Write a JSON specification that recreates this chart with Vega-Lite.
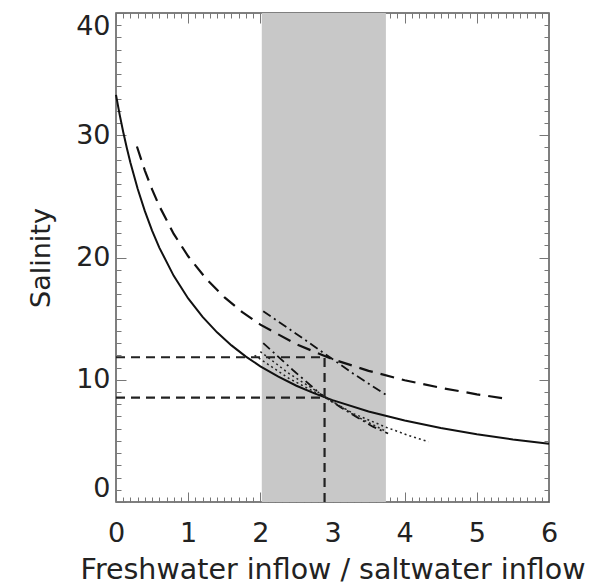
{
  "$schema": "https://vega.github.io/schema/vega-lite/v6.json",
  "width": 433,
  "height": 489,
  "autosize": "none",
  "padding": {"left": 116, "top": 13, "right": 44, "bottom": 83},
  "config": {
    "view": {"stroke": "#555", "strokeWidth": 1.5},
    "font": "DejaVu Sans",
    "axis": {
      "grid": false, "domain": false, "tickColor": "#777", "tickWidth": 1,
      "labelFont": "DejaVu Sans", "titleFont": "DejaVu Sans",
      "labelColor": "#222", "titleColor": "#222",
      "labelFontSize": 27, "titleFontSize": 27, "titleFontWeight": "normal",
      "labelFlush": false, "labelOverlap": false
    }
  },
  "datasets": {
    "curves": [
      {"series": "solid", "r": 0, "s": 33.3},
      {"series": "solid", "r": 0.05, "s": 31.71},
      {"series": "solid", "r": 0.1, "s": 30.27},
      {"series": "solid", "r": 0.15, "s": 28.96},
      {"series": "solid", "r": 0.2, "s": 27.75},
      {"series": "solid", "r": 0.3, "s": 25.62},
      {"series": "solid", "r": 0.4, "s": 23.79},
      {"series": "solid", "r": 0.5, "s": 22.2},
      {"series": "solid", "r": 0.6, "s": 20.81},
      {"series": "solid", "r": 0.8, "s": 18.5},
      {"series": "solid", "r": 1.0, "s": 16.65},
      {"series": "solid", "r": 1.2, "s": 15.14},
      {"series": "solid", "r": 1.4, "s": 13.88},
      {"series": "solid", "r": 1.6, "s": 12.81},
      {"series": "solid", "r": 1.8, "s": 11.89},
      {"series": "solid", "r": 2.0, "s": 11.1},
      {"series": "solid", "r": 2.25, "s": 10.25},
      {"series": "solid", "r": 2.5, "s": 9.51},
      {"series": "solid", "r": 2.75, "s": 8.88},
      {"series": "solid", "r": 3.0, "s": 8.33},
      {"series": "solid", "r": 3.5, "s": 7.4},
      {"series": "solid", "r": 4.0, "s": 6.66},
      {"series": "solid", "r": 4.5, "s": 6.05},
      {"series": "solid", "r": 5.0, "s": 5.55},
      {"series": "solid", "r": 5.5, "s": 5.12},
      {"series": "solid", "r": 6.0, "s": 4.76},
      {"series": "dashed", "r": 0.29, "s": 29.08},
      {"series": "dashed", "r": 0.4, "s": 27.11},
      {"series": "dashed", "r": 0.5, "s": 25.57},
      {"series": "dashed", "r": 0.6, "s": 24.21},
      {"series": "dashed", "r": 0.8, "s": 21.93},
      {"series": "dashed", "r": 1.0, "s": 20.1},
      {"series": "dashed", "r": 1.25, "s": 18.25},
      {"series": "dashed", "r": 1.5, "s": 16.76},
      {"series": "dashed", "r": 1.75, "s": 15.53},
      {"series": "dashed", "r": 2.0, "s": 14.51},
      {"series": "dashed", "r": 2.5, "s": 12.9},
      {"series": "dashed", "r": 3.0, "s": 11.68},
      {"series": "dashed", "r": 3.5, "s": 10.73},
      {"series": "dashed", "r": 4.0, "s": 9.96},
      {"series": "dashed", "r": 4.5, "s": 9.34},
      {"series": "dashed", "r": 5.0, "s": 8.81},
      {"series": "dashed", "r": 5.35, "s": 8.5},
      {"series": "dashdot1", "r": 2.04, "s": 15.6},
      {"series": "dashdot1", "r": 2.5, "s": 13.75},
      {"series": "dashdot1", "r": 2.9, "s": 12.1},
      {"series": "dashdot1", "r": 3.3, "s": 10.45},
      {"series": "dashdot1", "r": 3.77, "s": 8.65},
      {"series": "dashdot2", "r": 2.04, "s": 13.0},
      {"series": "dashdot2", "r": 2.45, "s": 10.8},
      {"series": "dashdot2", "r": 2.85, "s": 8.75},
      {"series": "dashdot2", "r": 3.1, "s": 7.8},
      {"series": "dashdot2", "r": 3.35, "s": 6.9},
      {"series": "dashdot2", "r": 3.56, "s": 6.16},
      {"series": "dashdot2", "r": 3.77, "s": 5.6},
      {"series": "dotted1", "r": 1.92, "s": 12.0},
      {"series": "dotted1", "r": 2.4, "s": 10.1},
      {"series": "dotted1", "r": 2.85, "s": 8.7},
      {"series": "dotted1", "r": 3.3, "s": 7.2},
      {"series": "dotted1", "r": 3.75, "s": 6.1},
      {"series": "dotted1", "r": 4.05, "s": 5.45},
      {"series": "dotted1", "r": 4.33, "s": 4.93},
      {"series": "dotted2", "r": 2.0, "s": 12.3},
      {"series": "dotted2", "r": 2.4, "s": 10.5},
      {"series": "dotted2", "r": 2.85, "s": 8.8},
      {"series": "dotted2", "r": 3.3, "s": 7.1},
      {"series": "dotted2", "r": 3.75, "s": 5.75}
    ],
    "refs": [
      {"x": 0, "x2": 2.89, "y": 11.84, "y2": 11.84},
      {"x": 0, "x2": 2.89, "y": 8.54, "y2": 8.54},
      {"x": 2.89, "x2": 2.89, "y": 0, "y2": 11.84}
    ],
    "band": [{"x1": 2.02, "x2": 3.74}]
  },
  "layer": [
    {
      "data": {"name": "band"},
      "mark": {"type": "rect", "color": "#c8c8c8"},
      "encoding": {
        "x": {"field": "x1", "type": "quantitative", "scale": {"domain": [0, 6], "nice": false, "zero": false},
          "axis": {"orient": "bottom", "values": [0, 1, 2, 3, 4, 5, 6], "tickSize": -10, "labelPadding": 28, "title": "Freshwater inflow / saltwater inflow", "titleFontSize": 28.5, "titleBaseline": "alphabetic", "titleY": 76}},
        "x2": {"field": "x2"}
      }
    },
    {
      "data": {"name": "curves"},
      "transform": [{"filter": "datum.series === 'solid'"}],
      "mark": {"type": "line", "color": "#111", "strokeWidth": 2},
      "encoding": {
        "x": {"field": "r", "type": "quantitative", "scale": {"domain": [0, 6], "nice": false, "zero": false},
          "axis": {"orient": "bottom", "values": [0.1,0.2,0.3,0.4,0.5,0.6,0.7,0.8,0.9,1.1,1.2,1.3,1.4,1.5,1.6,1.7,1.8,1.9,2.1,2.2,2.3,2.4,2.5,2.6,2.7,2.8,2.9,3.1,3.2,3.3,3.4,3.5,3.6,3.7,3.8,3.9,4.1,4.2,4.3,4.4,4.5,4.6,4.7,4.8,4.9,5.1,5.2,5.3,5.4,5.5,5.6,5.7,5.8,5.9], "tickSize": -5, "labels": false, "title": null}},
        "y": {"field": "s", "type": "quantitative", "scale": {"domain": [0, 40], "nice": false},
          "axis": {"orient": "left", "values": [0, 10, 20, 30, 40], "tickSize": -10, "labelPadding": 16, "labelFlush": true, "title": "Salinity", "titleBaseline": "alphabetic", "titleX": -67}}
      }
    },
    {
      "data": {"name": "curves"},
      "transform": [{"filter": "datum.series === 'dashed'"}],
      "mark": {"type": "line", "color": "#111", "strokeWidth": 2.2, "strokeDash": [14, 8]},
      "encoding": {
        "x": {"field": "r", "type": "quantitative", "scale": {"domain": [0, 6], "nice": false, "zero": false},
          "axis": {"orient": "top", "values": [0, 1, 2, 3, 4, 5, 6], "tickSize": -10, "labels": false, "title": null}},
        "y": {"field": "s", "type": "quantitative", "scale": {"domain": [0, 40], "nice": false},
          "axis": {"orient": "left", "values": [1,2,3,4,5,6,7,8,9,11,12,13,14,15,16,17,18,19,21,22,23,24,25,26,27,28,29,31,32,33,34,35,36,37,38,39], "tickSize": -5, "labels": false, "title": null}}
      }
    },
    {
      "data": {"name": "curves"},
      "transform": [{"filter": "datum.series === 'dashdot1' || datum.series === 'dashdot2'"}],
      "mark": {"type": "line", "color": "#111", "strokeWidth": 1.8, "strokeDash": [9, 4, 2, 4]},
      "encoding": {
        "detail": {"field": "series"},
        "x": {"field": "r", "type": "quantitative", "scale": {"domain": [0, 6], "nice": false, "zero": false},
          "axis": {"orient": "top", "values": [0.1,0.2,0.3,0.4,0.5,0.6,0.7,0.8,0.9,1.1,1.2,1.3,1.4,1.5,1.6,1.7,1.8,1.9,2.1,2.2,2.3,2.4,2.5,2.6,2.7,2.8,2.9,3.1,3.2,3.3,3.4,3.5,3.6,3.7,3.8,3.9,4.1,4.2,4.3,4.4,4.5,4.6,4.7,4.8,4.9,5.1,5.2,5.3,5.4,5.5,5.6,5.7,5.8,5.9], "tickSize": -5, "labels": false, "title": null}},
        "y": {"field": "s", "type": "quantitative", "scale": {"domain": [0, 40], "nice": false},
          "axis": {"orient": "right", "values": [0, 10, 20, 30, 40], "tickSize": -10, "labels": false, "title": null}}
      }
    },
    {
      "data": {"name": "curves"},
      "transform": [{"filter": "datum.series === 'dotted1' || datum.series === 'dotted2'"}],
      "mark": {"type": "line", "color": "#222", "strokeWidth": 1.5, "strokeDash": [2, 3]},
      "encoding": {
        "detail": {"field": "series"},
        "x": {"field": "r", "type": "quantitative", "scale": {"domain": [0, 6], "nice": false, "zero": false}, "axis": null},
        "y": {"field": "s", "type": "quantitative", "scale": {"domain": [0, 40], "nice": false},
          "axis": {"orient": "right", "values": [1,2,3,4,5,6,7,8,9,11,12,13,14,15,16,17,18,19,21,22,23,24,25,26,27,28,29,31,32,33,34,35,36,37,38,39], "tickSize": -5, "labels": false, "title": null}}
      }
    },
    {
      "data": {"name": "refs"},
      "mark": {"type": "rule", "color": "#222", "strokeWidth": 2.2, "strokeDash": [9, 6]},
      "encoding": {
        "x": {"field": "x", "type": "quantitative", "scale": {"domain": [0, 6], "nice": false, "zero": false}, "axis": null},
        "x2": {"field": "x2"},
        "y": {"field": "y", "type": "quantitative", "scale": {"domain": [0, 40], "nice": false}, "axis": null},
        "y2": {"field": "y2"}
      }
    }
  ],
  "resolve": {"axis": {"x": "independent", "y": "independent"}}
}
